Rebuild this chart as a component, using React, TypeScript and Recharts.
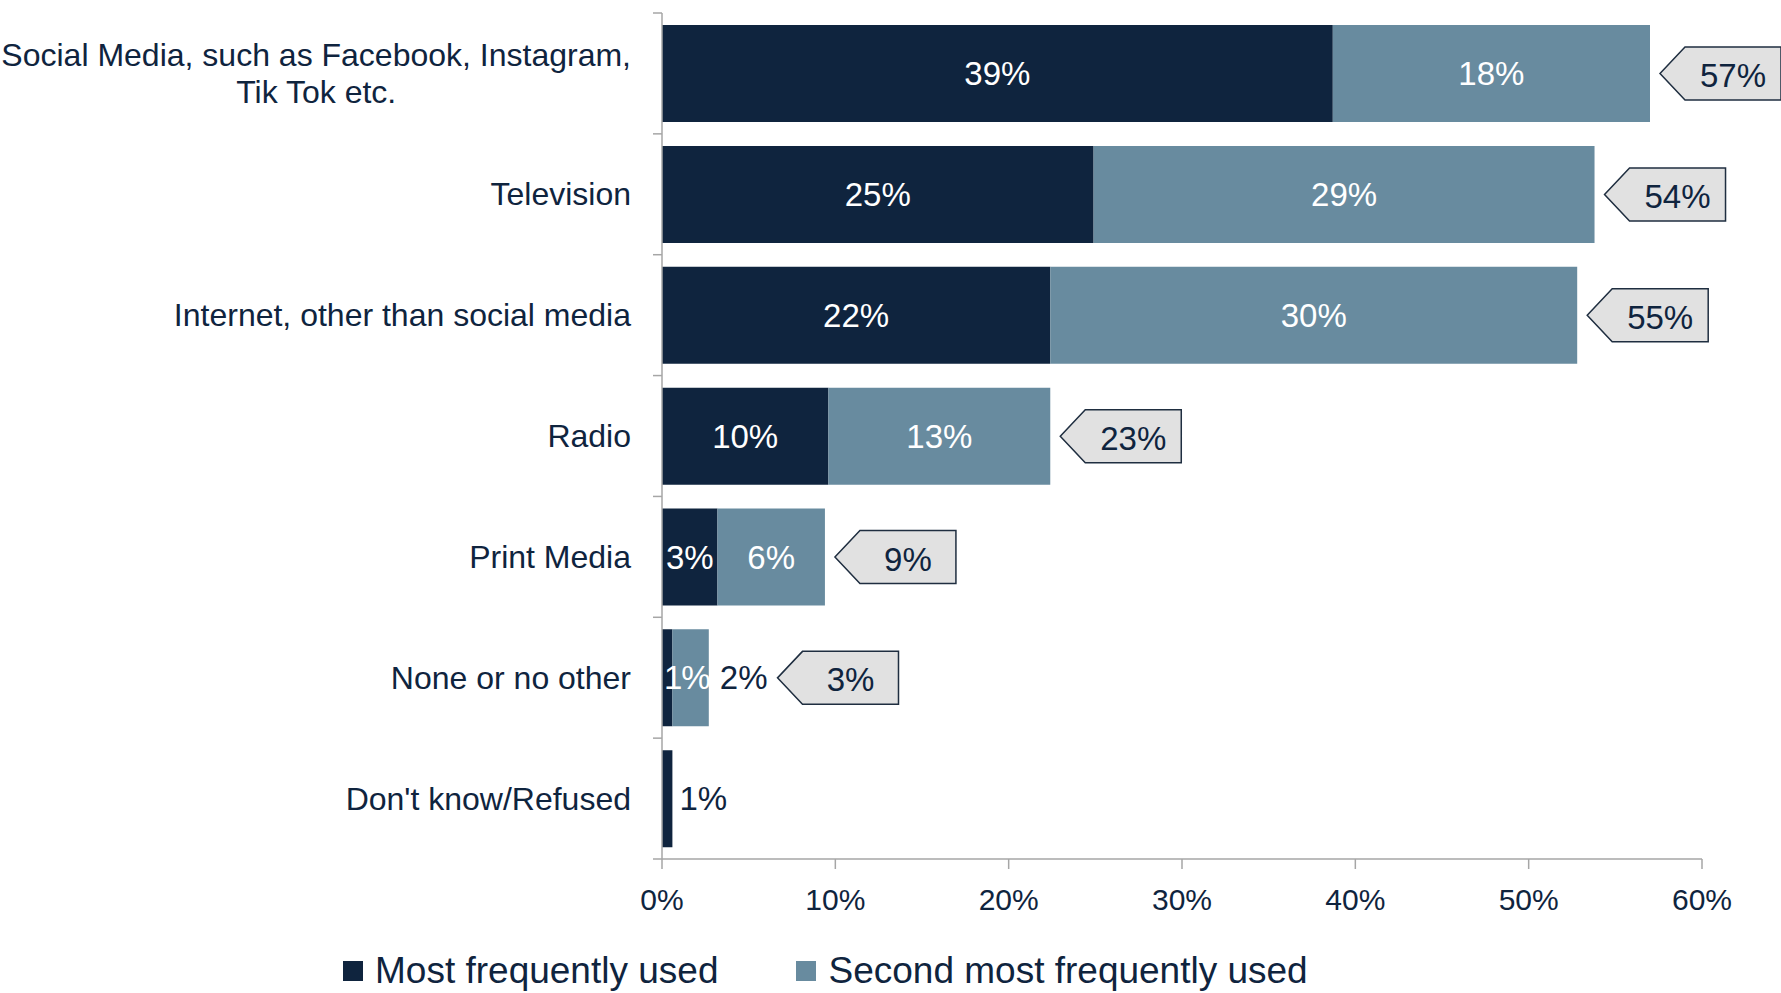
import React from 'react';
import { BarChart, Bar, XAxis, YAxis, LabelList } from 'recharts';

// values (percent of respondents)
const categories = [
  'Social Media, such as Facebook, Instagram,\nTik Tok etc.',
  'Television',
  'Internet, other than social media',
  'Radio',
  'Print Media',
  'None or no other',
  "Don't know/Refused",
];
const mostUsed = [38.7, 24.9, 22.4, 9.6, 3.2, 0.6, 0.6];
const secondUsed = [18.3, 28.9, 30.4, 12.8, 6.2, 2.1, 0];
const combined = [57, 54, 55, 23, 9, 3, null];
const xTicks = [0, 10, 20, 30, 40, 50, 60];
const seriesNames = ['Most frequently used', 'Second most frequently used'];

const data = categories.map((name, i) => ({
  name,
  most: mostUsed[i],
  second: secondUsed[i],
}));

const NAVY = '#0F243E';
const STEEL = '#688B9F';
const AXIS = '#A6A6A6';
const CALLOUT_FILL = '#E1E1E1';
const CALLOUT_STROKE = '#1F2E40';
const FONT = '"Liberation Sans", Arial, sans-serif';

const CHART_W = 1781;
const CHART_H = 993;
const MARGIN = { top: 13, right: 79, bottom: 0, left: 0 };
const Y_AXIS_W = 662;
const X_AXIS_H = 134;
const BAND = (CHART_H - MARGIN.top - MARGIN.bottom - X_AXIS_H) / categories.length;
const LABEL_SIZE = 33;

const ctx = typeof document !== 'undefined' ? document.createElement('canvas').getContext('2d') : null;
function textWidth(t: string, size: number) {
  if (!ctx) return t.length * size * 0.55;
  ctx.font = `${size}px "Liberation Sans"`;
  return ctx.measureText(t).width;
}

const pct = (v: number) => `${Math.round(v)}%`;

function CategoryTick(props: any) {
  const { x, y, payload, index } = props;
  const lines = String(payload.value).split('\n');
  const lineH = 36.5;
  const right = x - 31;
  const w = Math.max(...lines.map((l) => textWidth(l, 32)));
  const cx = right - w / 2;
  const y0 = y - ((lines.length - 1) * lineH) / 2;
  return (
    <g>
      <line x1={x - 9} x2={x} y1={y - BAND / 2} y2={y - BAND / 2} stroke={AXIS} strokeWidth={1.5} />
      {index === categories.length - 1 && (
        <line x1={x - 9} x2={x} y1={y + BAND / 2} y2={y + BAND / 2} stroke={AXIS} strokeWidth={1.5} />
      )}
      {lines.map((l, i) => (
        <text key={i} x={cx} y={y0 + i * lineH} dy="0.35em" textAnchor="middle" fill={NAVY} fontSize={32} fontFamily={FONT}>
          {l}
        </text>
      ))}
    </g>
  );
}

function geom(props: any) {
  const vb = props.viewBox ?? props;
  return { x: vb.x, y: vb.y, width: vb.width, height: vb.height };
}

function MostLabel(props: any) {
  const { index } = props;
  const { x, y, width, height } = geom(props);
  const mv = mostUsed[index];
  const txt = pct(mv);
  const tw = textWidth(txt, LABEL_SIZE);
  const cy = y + height / 2;
  if (tw + 6 <= width) {
    return (
      <text x={x + width / 2} y={cy} dy="0.35em" textAnchor="middle" fill="#fff" fontSize={LABEL_SIZE} fontFamily={FONT}>
        {txt}
      </text>
    );
  }
  if (!secondUsed[index]) {
    return (
      <text x={x + width + 7} y={cy} dy="0.35em" textAnchor="start" fill={NAVY} fontSize={LABEL_SIZE} fontFamily={FONT}>
        {txt}
      </text>
    );
  }
  return null; // drawn on top of the second bar instead
}

function SecondLabel(props: any) {
  const { index } = props;
  const sv = secondUsed[index];
  if (!sv) return null;
  const { x, y, width, height } = geom(props);
  const mv = mostUsed[index];
  const total = combined[index];
  const cy = y + height / 2;
  const txt = pct(sv);
  const tw = textWidth(txt, LABEL_SIZE);
  let end = x + width;
  const out: React.ReactNode[] = [];

  if (tw + 6 <= width) {
    out.push(
      <text key="s" x={x + width / 2} y={cy} dy="0.35em" textAnchor="middle" fill="#fff" fontSize={LABEL_SIZE} fontFamily={FONT}>
        {txt}
      </text>
    );
  } else {
    out.push(
      <text key="s" x={end + 11} y={cy} dy="0.35em" textAnchor="start" fill={NAVY} fontSize={LABEL_SIZE} fontFamily={FONT}>
        {txt}
      </text>
    );
    end = end + 11 + tw;
  }

  // narrow first segment: its label spills over this bar, so draw it here
  const mw = (width * mv) / sv;
  const mTxt = pct(mv);
  if (textWidth(mTxt, LABEL_SIZE) + 6 > mw) {
    out.push(
      <text key="m" x={x - mw + 2} y={cy} dy="0.35em" textAnchor="start" fill="#fff" fontSize={LABEL_SIZE} fontFamily={FONT} letterSpacing={-1}>
        {mTxt}
      </text>
    );
  }

  if (total != null) {
    const tip = end + 10;
    const notch = 25;
    const boxW = 121;
    const h = 53;
    const path = `M${tip},${cy} L${tip + notch},${cy - h / 2} L${tip + boxW},${cy - h / 2} L${tip + boxW},${cy + h / 2} L${tip + notch},${cy + h / 2} Z`;
    out.push(
      <g key="c">
        <path d={path} fill={CALLOUT_FILL} stroke={CALLOUT_STROKE} strokeWidth={1.5} />
        <text x={tip + (notch + boxW) / 2} y={cy + 2} dy="0.35em" textAnchor="middle" fill={NAVY} fontSize={LABEL_SIZE} fontFamily={FONT}>
          {`${total}%`}
        </text>
      </g>
    );
  }
  return <g>{out}</g>;
}

export default function App() {
  return (
    <div style={{ position: 'absolute', left: 0, top: 0, width: CHART_W, height: CHART_H, background: '#fff' }}>
      <BarChart
        width={CHART_W}
        height={CHART_H}
        data={data}
        layout="vertical"
        margin={MARGIN}
        barCategoryGap="10%"
      >
        <XAxis
          type="number"
          domain={[0, 60]}
          ticks={xTicks}
          tickFormatter={(v) => `${v}%`}
          height={X_AXIS_H}
          axisLine={{ stroke: AXIS, strokeWidth: 1.5 }}
          tickLine={{ stroke: AXIS, strokeWidth: 1.5 }}
          tickSize={10}
          tickMargin={20}
          tick={{ fill: NAVY, fontSize: 30, fontFamily: FONT }}
          interval={0}
        />
        <YAxis
          type="category"
          dataKey="name"
          width={Y_AXIS_W}
          axisLine={{ stroke: AXIS, strokeWidth: 1.5 }}
          tickLine={false}
          tickSize={0}
          tickMargin={0}
          tick={<CategoryTick />}
          interval={0}
        />
        <Bar dataKey="most" name={seriesNames[0]} stackId="a" fill={NAVY} isAnimationActive={false}>
          <LabelList dataKey="most" content={MostLabel} />
        </Bar>
        <Bar dataKey="second" name={seriesNames[1]} stackId="a" fill={STEEL} isAnimationActive={false}>
          <LabelList dataKey="second" content={SecondLabel} />
        </Bar>
      </BarChart>
      <div
        style={{
          position: 'absolute',
          left: 343,
          top: 950,
          display: 'flex',
          alignItems: 'center',
          fontFamily: FONT,
          fontSize: 37,
          color: NAVY,
          whiteSpace: 'nowrap',
        }}
      >
        {seriesNames.map((n, i) => (
          <div key={n} style={{ display: 'flex', alignItems: 'center', marginRight: i === 0 ? 78 : 0 }}>
            <span style={{ display: 'inline-block', width: 20, height: 20, background: i === 0 ? NAVY : STEEL, marginRight: 12 }} />
            <span>{n}</span>
          </div>
        ))}
      </div>
    </div>
  );
}
